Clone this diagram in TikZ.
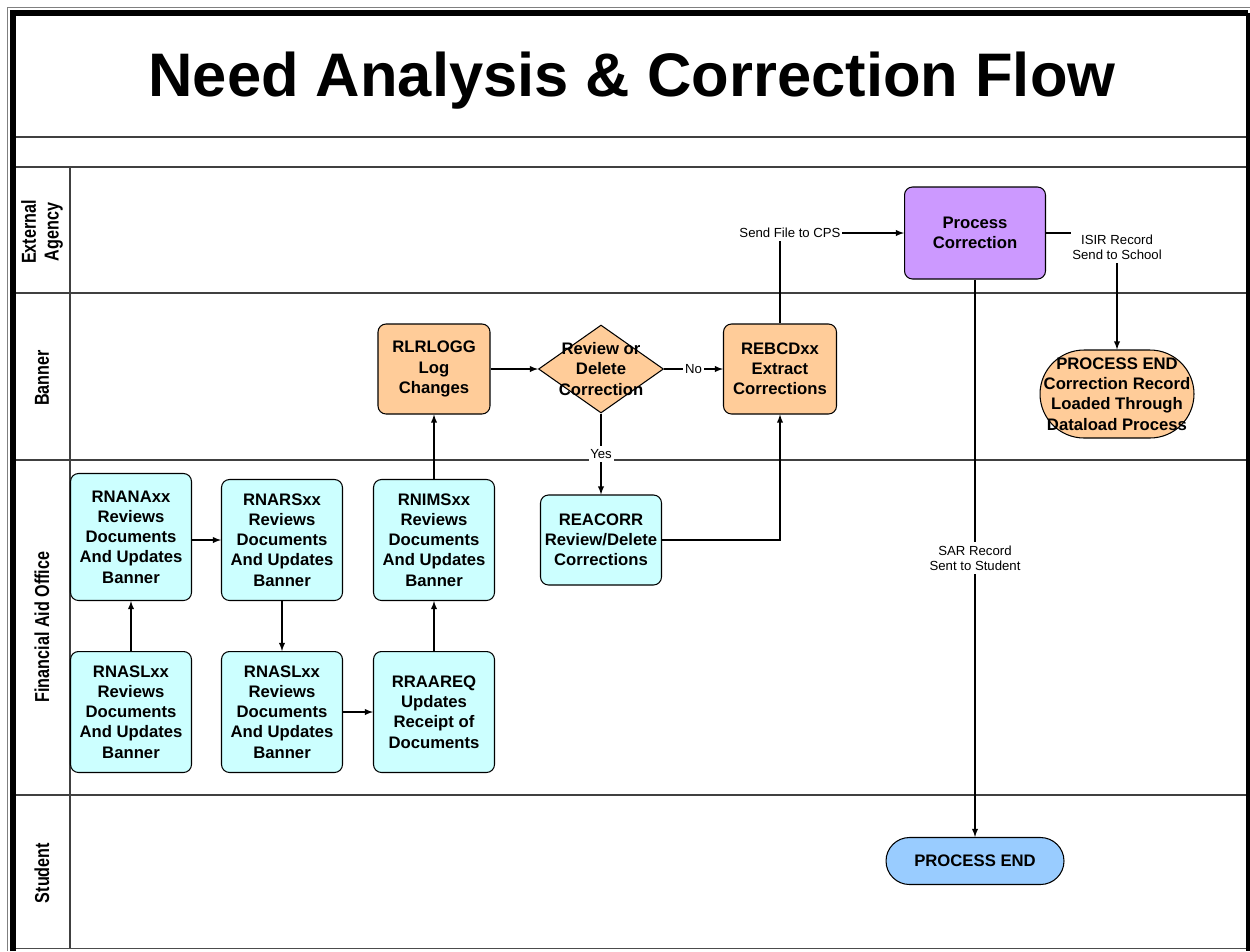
\documentclass[tikz,border=0pt]{standalone}
\usepackage{fontspec}
\setmainfont{Liberation Sans}
\newfontfamily\narrowsans[FakeStretch=0.8]{Liberation Sans}
\usetikzlibrary{shapes.geometric}
\definecolor{faobox}{HTML}{CCFFFF}
\definecolor{bannerbox}{HTML}{FFCC99}
\definecolor{agencybox}{HTML}{CC99FF}
\definecolor{studentbox}{HTML}{99CCFF}
\begin{document}
\begin{tikzpicture}[x=0.02cm,y=-0.02cm,
    task/.style={draw,line width=0.6pt,rounded corners=0.16cm,align=center,inner sep=1pt,
      font=\bfseries\fontsize{9.5}{11.5}\selectfont,minimum width=2.42cm,minimum height=2.42cm},
    lane/.style={rotate=90,align=center,font=\narrowsans\bfseries\fontsize{11.5}{13}\selectfont},
    lbl/.style={fill=white,inner xsep=1pt,inner ysep=2pt,align=center,font=\fontsize{7.5}{8.6}\selectfont},
    arr/.style={-latex,line width=0.6pt}]
    \useasboundingbox (0,0) rectangle (1250,951);
    \draw[gray] (7,951) -- (7,7) -- (1250,7);
    \draw[line width=3.4pt] (13,951) -- (13,13) -- (1248,13);
    \draw[line width=2.3pt] (1248,13) -- (1248,951);
    \draw[gray!60!black] (16,948) -- (1246,948);
    \foreach \y in {137,167,293,460,795}
        \draw[line width=0.8pt,black!75] (16,\y) -- (1246,\y);
    \draw[line width=0.8pt,black!75] (70,167) -- (70,948);
    \node[anchor=base,font=\bfseries\fontsize{35}{42}\selectfont] (title) at (632,96) {Need Analysis \& Correction Flow};
    \node[lane] (agency) at (42,232) {External\\Agency};
    \node[lane] (bannerlane) at (42,378) {Banner};
    \node[lane] (fao) at (42,627) {Financial Aid Office};
    \node[lane] (student) at (42,873) {Student};
    \node[task,fill=faobox,minimum height=2.54cm] (rnana) at (131,537) {RNANAxx\\Reviews\\Documents\\And Updates\\Banner};
    \node[task,fill=faobox] (rnars) at (282,540) {RNARSxx\\Reviews\\Documents\\And Updates\\Banner};
    \node[task,fill=faobox] (rnims) at (434,540) {RNIMSxx\\Reviews\\Documents\\And Updates\\Banner};
    \node[task,fill=faobox] (rnasla) at (131,712) {RNASLxx\\Reviews\\Documents\\And Updates\\Banner};
    \node[task,fill=faobox] (rnaslb) at (282,712) {RNASLxx\\Reviews\\Documents\\And Updates\\Banner};
    \node[task,fill=faobox] (rraareq) at (434,712) {RRAAREQ\\Updates\\Receipt of\\Documents};
    \node[task,fill=bannerbox,minimum width=2.24cm,minimum height=1.8cm] (rlrlogg) at (434,369) {RLRLOGG\\Log\\Changes};
    \node[diamond,draw,line width=0.6pt,fill=bannerbox,minimum width=2.5cm,minimum height=1.76cm,inner sep=0pt,
        label={[align=center,font=\bfseries\fontsize{9.5}{11.5}\selectfont]center:Review or\\Delete\\Correction}] (decide) at (601,369) {};
    \node[task,fill=bannerbox,minimum width=2.26cm,minimum height=1.8cm] (rebcd) at (780,369) {REBCDxx\\Extract\\Corrections};
    \node[task,fill=faobox,minimum height=1.8cm] (reacorr) at (601,540) {REACORR\\Review/Delete\\Corrections};
    \node[task,fill=agencybox,minimum width=2.82cm,minimum height=1.84cm] (proc) at (975,233) {Process\\Correction};
    \node[task,fill=bannerbox,rounded corners=0.88cm,minimum width=3.08cm,minimum height=1.76cm] (endbanner) at (1117,394) {PROCESS END\\Correction Record\\Loaded Through\\Dataload Process};
    \node[task,fill=studentbox,rounded corners=0.47cm,minimum width=3.56cm,minimum height=0.94cm] (endstudent) at (975,861) {PROCESS END};
    \draw[arr] (rnasla) -- (rnana);
    \draw[arr] (rnana.east |- rnars.west) -- (rnars.west);
    \draw[arr] (rnars) -- (rnaslb);
    \draw[arr] (rnaslb) -- (rraareq);
    \draw[arr] (rraareq) -- (rnims);
    \draw[arr] (rnims) -- (rlrlogg);
    \draw[arr] (rlrlogg) -- (decide);
    \draw[arr] (decide) -- node[lbl] {No} (rebcd);
    \draw[arr] (decide) -- node[lbl] {Yes} (reacorr);
    \draw[arr] (reacorr) -| (rebcd);
    \draw[arr] (rebcd) |- node[lbl,xshift=0.2cm] {Send File to CPS} (proc);
    \draw[arr] (proc) -| node[lbl,yshift=-0.28cm] {ISIR Record\\Send to School} (endbanner);
    \draw[arr] (proc) -- node[lbl] {SAR Record\\Sent to Student} (endstudent);
\end{tikzpicture}
\end{document}
